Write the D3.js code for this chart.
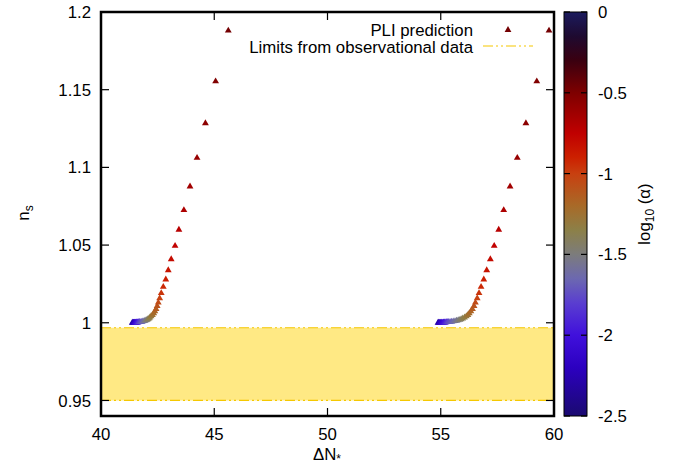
<!DOCTYPE html>
<html>
<head>
<meta charset="utf-8">
<script src="https://cdn.jsdelivr.net/npm/d3@7"></script>
<style>
  body { margin: 0; background: #fff; }
  svg { display: block; }
  text { font-family: "Liberation Sans", Arial, Helvetica, sans-serif; font-size: 16.8px; fill: #000; }
</style>
</head>
<body>
<svg id="chart" width="675" height="468"></svg>
<script>
// PLI samples, ordered from largest to smallest alpha
const logAlpha = [
  -0.470, -0.511, -0.553, -0.594, -0.636, -0.677, -0.718, -0.760, -0.801, -0.843,
  -0.884, -0.925, -0.967, -1.008, -1.050, -1.091, -1.132, -1.174, -1.215, -1.257,
  -1.298, -1.339, -1.381, -1.422, -1.464, -1.505, -1.546, -1.588, -1.629, -1.671,
  -1.712, -1.753, -1.795, -1.836, -1.878, -1.919, -1.960, -2.002, -2.043, -2.085,
  -2.126, -2.167, -2.209, -2.250, -2.292
];
const spectralIndex = [
  1.1880, 1.1554, 1.1284, 1.1061, 1.0877, 1.0725, 1.0599, 1.0495, 1.0409, 1.0338,
  1.0279, 1.0231, 1.0191, 1.0158, 1.0130, 1.0108, 1.0089, 1.0074, 1.0061, 1.0050,
  1.0042, 1.0034, 1.0028, 1.0023, 1.0019, 1.0016, 1.0013, 1.0011, 1.0009, 1.0007,
  1.0006, 1.0005, 1.0004, 1.0004, 1.0003, 1.0002, 1.0002, 1.0002, 1.0001, 1.0001,
  1.0001, 1.0001, 1.0001, 1.0000, 1.0000
];
const deltaNBranchA = [
  45.62, 45.06, 44.61, 44.24, 43.93, 43.66, 43.44, 43.27, 43.10, 42.97,
  42.86, 42.75, 42.66, 42.59, 42.53, 42.48, 42.43, 42.38, 42.33, 42.27,
  42.21, 42.16, 42.12, 42.07, 42.03, 41.99, 41.94, 41.90, 41.85, 41.81,
  41.77, 41.72, 41.69, 41.67, 41.64, 41.61, 41.59, 41.56, 41.53, 41.51,
  41.48, 41.46, 41.43, 41.41, 41.38
];
const deltaNBranchB = [
  59.78, 59.24, 58.76, 58.38, 58.06, 57.78, 57.56, 57.36, 57.19, 57.03,
  56.90, 56.78, 56.69, 56.61, 56.53, 56.47, 56.40, 56.33, 56.26, 56.20,
  56.13, 56.05, 55.97, 55.90, 55.84, 55.77, 55.70, 55.63, 55.55, 55.48,
  55.41, 55.33, 55.30, 55.26, 55.23, 55.19, 55.16, 55.12, 55.09, 55.05,
  55.02, 54.98, 54.95, 54.91, 54.88
];

// Observational band on n_s
const limitDeltaN = [40, 60];
const limitLower = [0.95, 0.95];
const limitUpper = [0.9968, 0.9968];

// Axis ticks
const xTickValues = [40, 45, 50, 55, 60];
const xTickLabels = ["40", "45", "50", "55", "60"];
const yTickValues = [0.95, 1, 1.05, 1.1, 1.15, 1.2];
const yTickLabels = ["0.95", "1", "1.05", "1.1", "1.15", "1.2"];
const cbTickValues = [-2.5, -2, -1.5, -1, -0.5, 0];
const cbTickLabels = ["-2.5", "-2", "-1.5", "-1", "-0.5", "0"];

// Colour palette for log10(alpha)
const paletteValues = [-2.5, -2.2, -2.0, -1.8, -1.65, -1.5, -1.35, -1.2, -1.0, -0.9, -0.75, -0.5, -0.3, -0.15, 0];
const paletteColors = ["#1a0a70", "#2c00c0", "#4010dc", "#5a3ed0", "#6c68b0", "#7c7c7c", "#8c8048",
                       "#a86a28", "#c84010", "#cc2000", "#c00000", "#7e0000", "#3a0010", "#1e0a30", "#1b1b5e"];

const svg = d3.select("#chart");
const plot = { left: 101, right: 554, top: 12, bottom: 416 };
const cb = { left: 564, right: 587 };

const x = d3.scaleLinear().domain([40, 60]).range([plot.left, plot.right]);
const y = d3.scaleLinear().domain([0.94, 1.2]).range([plot.bottom, plot.top]);
const cbScale = d3.scaleLinear().domain([-2.5, 0]).range([plot.bottom, plot.top]);
const color = d3.scaleLinear().domain(paletteValues).range(paletteColors).interpolate(d3.interpolateRgb);

svg.append("defs").append("clipPath").attr("id", "plotClip")
  .append("rect").attr("x", plot.left).attr("y", plot.top)
  .attr("width", plot.right - plot.left).attr("height", plot.bottom - plot.top);

const body = svg.append("g").attr("clip-path", "url(#plotClip)");

// Observational band
const band = limitDeltaN.map((d, i) => ({ n: d, lo: limitLower[i], hi: limitUpper[i] }));
body.append("path").datum(band)
  .attr("d", d3.area().x(d => x(d.n)).y0(d => y(d.lo)).y1(d => y(d.hi)))
  .attr("fill", "#ffe984");
const dashPattern = "10,3,2,3,2,3";
["lo", "hi"].forEach(k => {
  body.append("path").datum(band)
    .attr("d", d3.line().x(d => x(d.n)).y(d => y(d[k])))
    .attr("fill", "none").attr("stroke", "#f5c800").attr("stroke-width", 1.2)
    .attr("stroke-dasharray", dashPattern);
});

// PLI prediction points (small alpha first so larger alpha sits on top)
const tri = d3.symbol().type(d3.symbolTriangle).size(20);
[deltaNBranchA, deltaNBranchB].forEach(branch => {
  const pts = branch.map((n, i) => ({ n, ns: spectralIndex[i], a: logAlpha[i] })).reverse();
  body.append("g").selectAll("path").data(pts).join("path")
    .attr("d", tri)
    .attr("transform", d => `translate(${x(d.n)},${y(d.ns)})`)
    .attr("fill", d => color(d.a));
});

// Ticks (mirrored on all four sides, pointing inward)
const tickLen = 8;
const ticks = svg.append("g").attr("stroke", "#000").attr("stroke-width", 1.2);
xTickValues.forEach(v => {
  ticks.append("line").attr("x1", x(v)).attr("x2", x(v)).attr("y1", plot.bottom).attr("y2", plot.bottom - tickLen);
  ticks.append("line").attr("x1", x(v)).attr("x2", x(v)).attr("y1", plot.top).attr("y2", plot.top + tickLen);
});
yTickValues.forEach(v => {
  ticks.append("line").attr("x1", plot.left).attr("x2", plot.left + tickLen).attr("y1", y(v)).attr("y2", y(v));
  ticks.append("line").attr("x1", plot.right).attr("x2", plot.right - tickLen).attr("y1", y(v)).attr("y2", y(v));
});

// Frame
svg.append("rect").attr("x", plot.left).attr("y", plot.top)
  .attr("width", plot.right - plot.left).attr("height", plot.bottom - plot.top)
  .attr("fill", "none").attr("stroke", "#000").attr("stroke-width", 2.5);

// Tick labels
svg.append("g").selectAll("text").data(xTickValues).join("text")
  .attr("x", d => x(d)).attr("y", 440).attr("text-anchor", "middle")
  .text((d, i) => xTickLabels[i]);
svg.append("g").selectAll("text").data(yTickValues).join("text")
  .attr("x", 91).attr("y", d => y(d)).attr("dy", "0.36em").attr("text-anchor", "end")
  .text((d, i) => yTickLabels[i]);

// Axis titles
const xl = svg.append("text").attr("x", 327).attr("y", 460).attr("text-anchor", "middle");
xl.append("tspan").text("\u0394N");
xl.append("tspan").attr("font-size", "12px").attr("dy", 3).text("*");

const yl = svg.append("text").attr("transform", "translate(29,213) rotate(-90)").attr("text-anchor", "middle");
yl.append("tspan").text("n");
yl.append("tspan").attr("font-size", "12px").attr("dy", 4).text("s");

// Legend
svg.append("text").attr("x", 473).attr("y", 30).attr("dy", "0.34em").attr("text-anchor", "end").text("PLI prediction");
svg.append("path").attr("d", tri).attr("transform", `translate(508,30)`).attr("fill", color(logAlpha[0]));
svg.append("text").attr("x", 473).attr("y", 47.5).attr("dy", "0.34em").attr("text-anchor", "end").text("Limits from observational data");
svg.append("line").attr("x1", 483).attr("x2", 533).attr("y1", 46).attr("y2", 46)
  .attr("stroke", "#f5c800").attr("stroke-width", 1.2).attr("stroke-dasharray", dashPattern);

// Colour bar
const grad = svg.select("defs").append("linearGradient").attr("id", "cbGrad")
  .attr("x1", 0).attr("y1", 1).attr("x2", 0).attr("y2", 0);
paletteValues.forEach((v, i) => {
  grad.append("stop").attr("offset", (v + 2.5) / 2.5).attr("stop-color", paletteColors[i]);
});
svg.append("rect").attr("x", cb.left).attr("y", plot.top)
  .attr("width", cb.right - cb.left).attr("height", plot.bottom - plot.top)
  .attr("fill", "url(#cbGrad)").attr("stroke", "#000").attr("stroke-width", 1);
const cbTicks = svg.append("g").attr("stroke", "#000").attr("stroke-width", 1.2);
cbTickValues.forEach(v => {
  cbTicks.append("line").attr("x1", cb.left).attr("x2", cb.left + 6).attr("y1", cbScale(v)).attr("y2", cbScale(v));
  cbTicks.append("line").attr("x1", cb.right).attr("x2", cb.right - 6).attr("y1", cbScale(v)).attr("y2", cbScale(v));
});
svg.append("g").selectAll("text").data(cbTickValues).join("text")
  .attr("x", 598).attr("y", d => cbScale(d)).attr("dy", "0.36em")
  .text((d, i) => cbTickLabels[i]);

const cl = svg.append("text").attr("transform", "translate(650,214) rotate(-90)").attr("text-anchor", "middle");
cl.append("tspan").text("log");
cl.append("tspan").attr("font-size", "12px").attr("dy", 4).text("10");
cl.append("tspan").attr("dy", -4).text(" (\u03b1)");
</script>
</body>
</html>
